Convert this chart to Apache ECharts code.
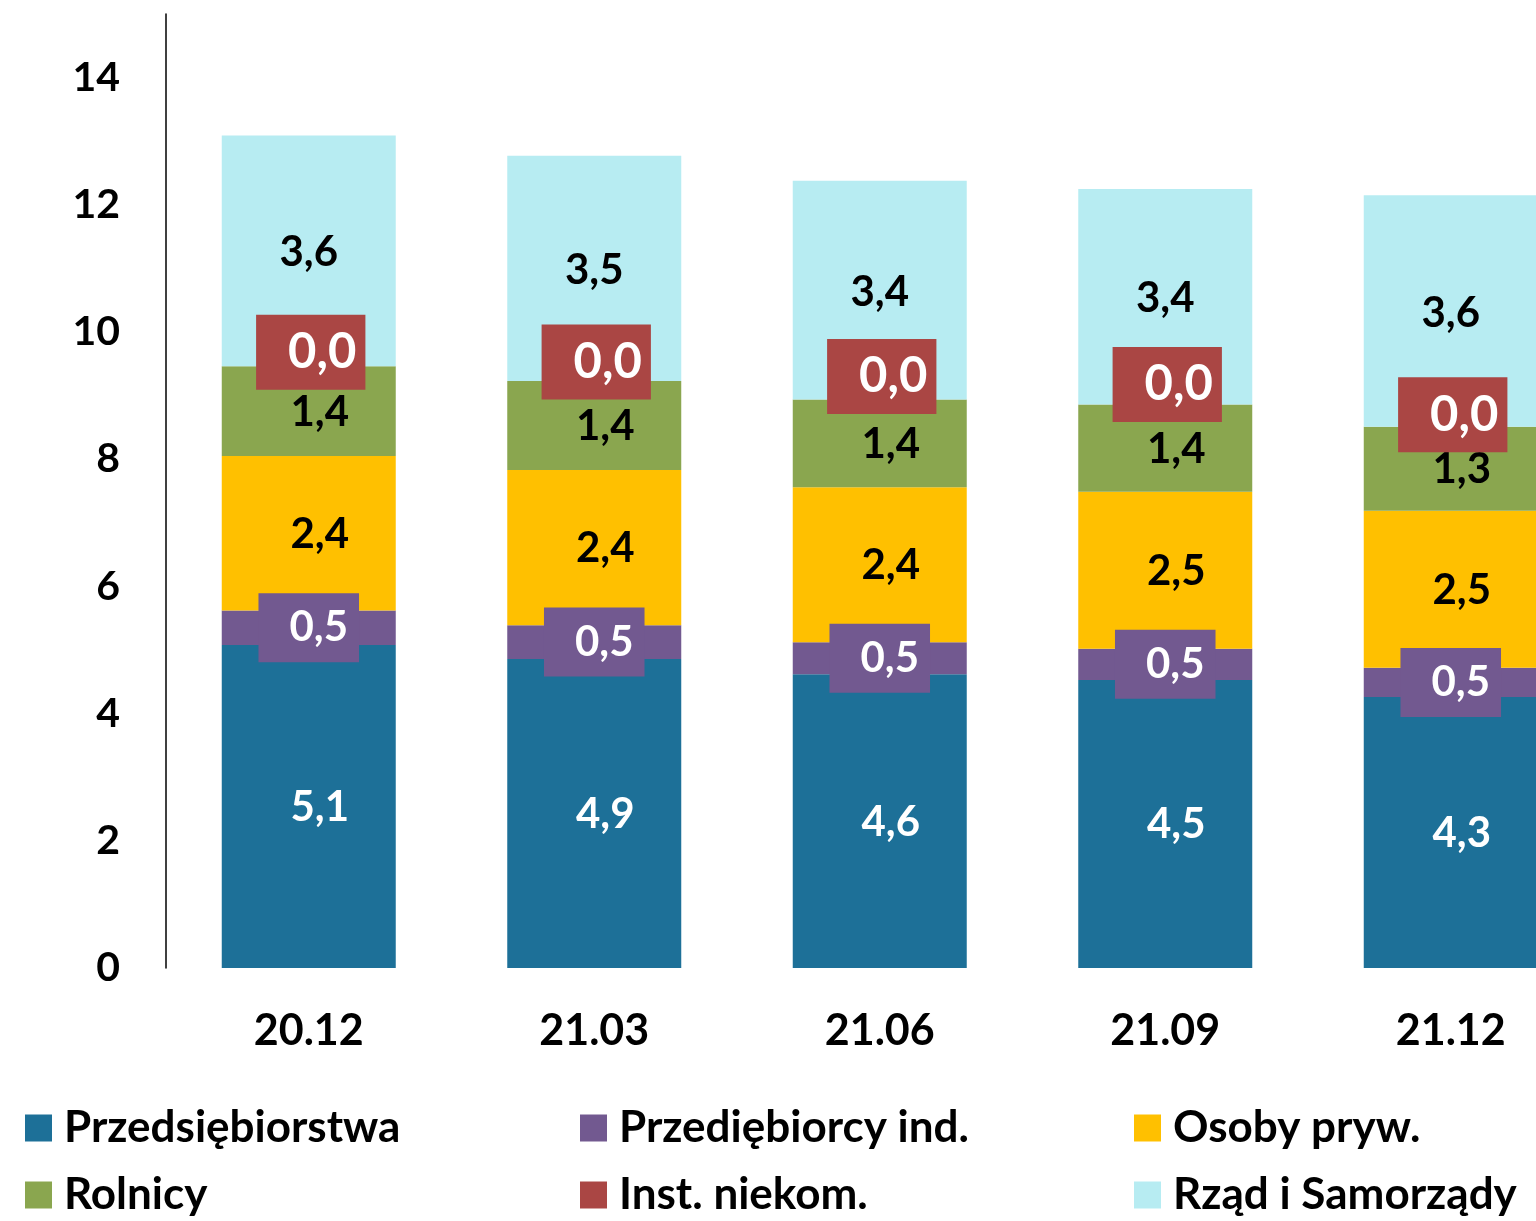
<!DOCTYPE html>
<html>
<head>
<meta charset="utf-8">
<script src="https://cdn.jsdelivr.net/npm/echarts@6/dist/echarts.min.js"></script>
<style>
html,body{margin:0;padding:0;background:#fff;overflow:hidden;}
#chart{width:1600px;height:1221px;}
</style>
</head>
<body>
<div id="chart"></div>
<script>
const categories = ['20.12', '21.03', '21.06', '21.09', '21.12'];
const seriesNames = ['Przedsiębiorstwa', 'Przediębiorcy ind.', 'Osoby pryw.', 'Rolnicy', 'Inst. niekom.', 'Rząd i Samorządy'];
const przedsiebiorstwa = [5.08, 4.86, 4.62, 4.53, 4.26];
const przedsiebiorcyInd = [0.54, 0.53, 0.50, 0.49, 0.46];
const osobyPryw = [2.43, 2.44, 2.44, 2.47, 2.47];
const rolnicy = [1.41, 1.40, 1.38, 1.37, 1.32];
const instNiekom = [0.0, 0.0, 0.0, 0.0, 0.0];
const rzad = [3.63, 3.54, 3.44, 3.39, 3.64];
const yTicks = [0, 2, 4, 6, 8, 10, 12, 14];

const colors = ['#1D7098', '#725990', '#FFC000', '#8AA64F', '#AA4644', '#B7ECF2'];
const redLabelShift = [-14, -19, -23, -20, -12];
const FONT = 'Lato';

const fmt = p => Number(p.value).toFixed(1).replace('.', ',');

const allData = [przedsiebiorstwa, przedsiebiorcyInd, osobyPryw, rolnicy, instNiekom, rzad];

const labelCfg = [
  { color: '#fff', fontSize: 42, offset: [11, 1] },
  { color: '#fff', fontSize: 42, lineHeight: 42, backgroundColor: colors[1], padding: [15, 11, 12, 31], offset: [0, 0] },
  { color: '#000', fontSize: 42, offset: [11, 1] },
  { color: '#000', fontSize: 42, offset: [11, 1] },
  { color: '#fff', fontSize: 49, lineHeight: 49, backgroundColor: colors[4], padding: [14, 9, 12, 32], offset: [2, 0] },
  { color: '#000', fontSize: 42, offset: [0, 2] }
];

const series = allData.map((vals, i) => ({
  name: seriesNames[i],
  type: 'bar',
  stack: 'total',
  barWidth: 174,
  itemStyle: { color: colors[i] },
  label: Object.assign({
    show: true,
    position: 'inside',
    fontFamily: FONT,
    fontWeight: 'bold',
    formatter: fmt
  }, labelCfg[i]),
  data: vals.map((v, j) => i === 4
    ? { value: v, label: { offset: [2, redLabelShift[j]] } }
    : v)
}));

const chart = echarts.init(document.getElementById('chart'));
chart.setOption({
  animation: false,
  color: colors,
  grid: { left: 166, top: 14, width: 1427.5, bottom: 253, containLabel: false },
  xAxis: {
    type: 'category',
    data: categories,
    axisLine: { show: false },
    axisTick: { show: false },
    axisLabel: { fontFamily: FONT, fontWeight: 'bold', fontSize: 43, color: '#000', margin: 42 }
  },
  yAxis: {
    type: 'value',
    min: 0,
    max: 15,
    interval: 2,
    splitLine: { show: false },
    axisTick: { show: false },
    axisLine: { show: true, lineStyle: { color: '#000', width: 1.5 } },
    axisLabel: {
      fontFamily: FONT, fontWeight: 'bold', fontSize: 41, color: '#000', margin: 46,
      showMaxLabel: false,
      formatter: v => yTicks.indexOf(v) >= 0 ? String(v) : ''
    }
  },
  legend: [
    [seriesNames[0], seriesNames[3], 25],
    [seriesNames[1], seriesNames[4], 580],
    [seriesNames[2], seriesNames[5], 1134]
  ].map(c => ({
    data: [c[0], c[1]],
    orient: 'vertical',
    left: c[2],
    top: 1106,
    padding: 0,
    height: 115,
    itemWidth: 27,
    itemHeight: 27,
    itemGap: 23,
    icon: 'rect',
    textStyle: { fontFamily: FONT, fontWeight: 'bold', fontSize: 44, color: '#000', lineHeight: 44, padding: [0, 0, 0, 7] }
  })),
  series: series
});
</script>
</body>
</html>
